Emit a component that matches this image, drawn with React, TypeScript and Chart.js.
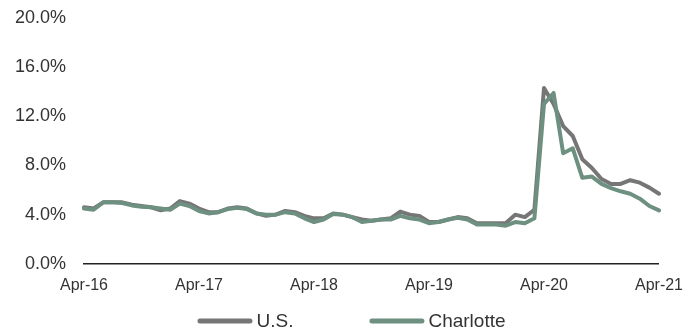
import React, { useEffect, useRef } from "react";
import { Chart, registerables } from "chart.js";

Chart.register(...registerables);

const months = ["Apr", "May", "Jun", "Jul", "Aug", "Sep", "Oct", "Nov", "Dec", "Jan", "Feb", "Mar"];
const categories: string[] = [];
for (let y = 16; y <= 21; y++) {
  for (let m = 0; m < 12; m++) {
    if (y === 21 && m > 0) break;
    const yr = m >= 9 ? y + 1 : y;
    categories.push(`${months[m]}-${yr}`);
  }
}

const usValues = [
  4.6, 4.5, 5.0, 5.0, 5.0, 4.8, 4.7, 4.6, 4.35, 4.5,
  5.1, 4.9, 4.5, 4.2, 4.2, 4.5, 4.6, 4.5, 4.1, 3.9,
  4.0, 4.3, 4.2, 3.9, 3.7, 3.7, 4.1, 4.0, 3.8, 3.6,
  3.5, 3.6, 3.7, 4.25, 4.0, 3.9, 3.4, 3.4, 3.6, 3.8,
  3.7, 3.3, 3.3, 3.3, 3.3, 4.0, 3.8, 4.4, 14.3, 13.0,
  11.2, 10.4, 8.5, 7.8, 6.9, 6.5, 6.5, 6.8, 6.6, 6.2,
  5.7,
];

const charlotteValues = [
  4.5, 4.4, 5.0, 5.0, 4.95, 4.75, 4.65, 4.6, 4.5, 4.4,
  4.9, 4.7, 4.3, 4.1, 4.2, 4.45, 4.55, 4.45, 4.1, 4.0,
  4.0, 4.2, 4.1, 3.7, 3.4, 3.6, 4.05, 4.0, 3.8, 3.4,
  3.5, 3.6, 3.6, 3.9, 3.7, 3.6, 3.3, 3.4, 3.6, 3.75,
  3.6, 3.2, 3.2, 3.2, 3.1, 3.4, 3.3, 3.7, 13.0, 13.9,
  9.0, 9.4, 7.0, 7.1, 6.5, 6.15, 5.9, 5.7, 5.3, 4.7,
  4.35,
];

const yTicks = [0, 4, 8, 12, 16, 20];

const US_COLOR = "#767676";
const CH_COLOR = "#6d9080";

const legendPlugin = {
  id: "customLegend",
  afterDraw(chart: any) {
    const ctx = chart.ctx as CanvasRenderingContext2D;
    const datasets = chart.data.datasets;
    const boxW = 55;
    const gap = 4;
    const itemGap = 76;
    ctx.save();
    ctx.font = "19px 'Liberation Sans', Arial, sans-serif";
    const widths = datasets.map((d: any) => ctx.measureText(d.label).width);
    let total = 0;
    widths.forEach((w: number, i: number) => {
      total += boxW + gap + w + (i < widths.length - 1 ? itemGap : 0);
    });
    let x = chart.width / 2 + 4 - total / 2;
    const y = 321;
    datasets.forEach((d: any, i: number) => {
      ctx.strokeStyle = d.borderColor;
      ctx.lineWidth = 5;
      ctx.lineCap = "round";
      ctx.beginPath();
      ctx.moveTo(x + 2.5, y);
      ctx.lineTo(x + boxW - 2.5, y);
      ctx.stroke();
      ctx.fillStyle = "#333333";
      ctx.textBaseline = "middle";
      ctx.textAlign = "left";
      ctx.fillText(d.label, x + boxW + gap, y + 1);
      x += boxW + gap + widths[i] + itemGap;
    });
    ctx.restore();
  },
};

export default function App() {
  const canvasRef = useRef<HTMLCanvasElement | null>(null);

  useEffect(() => {
    if (!canvasRef.current) return;
    const chart = new Chart(canvasRef.current, {
      type: "line",
      data: {
        labels: categories,
        datasets: [
          {
            label: "U.S.",
            data: usValues,
            borderColor: US_COLOR,
            backgroundColor: US_COLOR,
            borderWidth: 4,
            pointRadius: 0,
            tension: 0,
            borderJoinStyle: "round",
            borderCapStyle: "round",
            order: 1,
          },
          {
            label: "Charlotte",
            data: charlotteValues,
            borderColor: CH_COLOR,
            backgroundColor: CH_COLOR,
            borderWidth: 4,
            pointRadius: 0,
            tension: 0,
            borderJoinStyle: "round",
            borderCapStyle: "round",
            order: 0,
          },
        ],
      },
      options: {
        animation: false,
        responsive: true,
        maintainAspectRatio: false,
        layout: { padding: { top: 18, bottom: 23, left: 0, right: 0 } },
        plugins: {
          legend: { display: false },
          tooltip: { enabled: false },
        },
        scales: {
          x: {
            type: "category",
            offset: false,
            grid: { display: false, drawTicks: false },
            border: { display: true, color: "#222222", width: 1.5 },
            ticks: {
              autoSkip: false,
              maxRotation: 0,
              minRotation: 0,
              padding: 12,
              color: "#333333",
              font: { size: 16, family: "'Liberation Sans', Arial, sans-serif" },
              callback: function (this: any, val: any, index: number) {
                return index % 12 === 0 ? this.getLabelForValue(val) : null;
              },
            },
          },
          y: {
            min: 0,
            max: 20,
            grid: { display: false, drawTicks: false },
            border: { display: false },
            afterFit: (scale: any) => {
              scale.width = 84;
              scale.paddingTop = 0;
              scale.paddingBottom = 0;
            },
            afterBuildTicks: (scale: any) => {
              scale.ticks = yTicks.map((v) => ({ value: v }));
            },
            ticks: {
              padding: 18,
              color: "#333333",
              font: { size: 18, family: "'Liberation Sans', Arial, sans-serif" },
              callback: (v: any) => Number(v).toFixed(1) + "%",
            },
          },
        },
      },
      plugins: [legendPlugin],
    });
    return () => chart.destroy();
  }, []);

  return (
    <div style={{ position: "fixed", left: 0, top: 0, width: 695, height: 330, background: "#ffffff" }}>
      <canvas ref={canvasRef} />
    </div>
  );
}
